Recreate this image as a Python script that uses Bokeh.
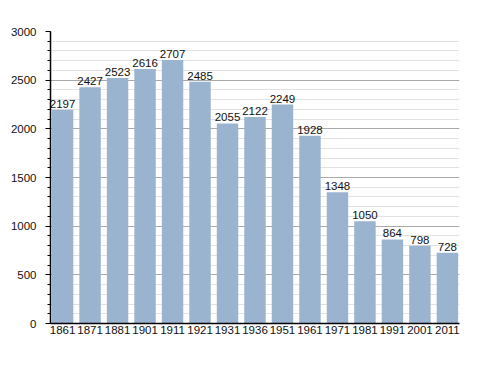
from bokeh.plotting import figure
from bokeh.models import Range1d, FixedTicker, SingleIntervalTicker, ColumnDataSource, LabelSet
from bokeh.core.properties import value
from bokeh.embed import file_html
from bokeh.resources import INLINE

years = ["1861", "1871", "1881", "1901", "1911", "1921", "1931", "1936", "1951", "1961", "1971", "1981", "1991", "2001", "2011"]
population = [2197, 2427, 2523, 2616, 2707, 2485, 2055, 2122, 2249, 1928, 1348, 1050, 864, 798, 728]

xs = list(range(len(years)))
src = ColumnDataSource(dict(x=xs, top=population, lab=[str(v) for v in population]))

p = figure(width=478, height=360, output_backend="svg", toolbar_location=None,
           x_range=Range1d(-0.44, len(years) - 1 + 0.44), y_range=Range1d(0, 3000),
           min_border_left=50, min_border_right=19, min_border_top=31, min_border_bottom=37)
p.outline_line_color = None
p.background_fill_color = "white"

p.vbar(x="x", top="top", width=0.78, source=src, fill_color="#9AB3CF", line_color=None)

labels = LabelSet(x="x", y="top", text="lab", source=src, text_align="center",
                  text_baseline="bottom", y_offset=2, text_font=value("Liberation Sans"),
                  text_font_size="11.5px", text_color="#111111")
p.add_layout(labels)

p.xaxis.ticker = FixedTicker(ticks=xs)
p.xaxis.major_label_overrides = {i: y for i, y in enumerate(years)}
p.xaxis.major_tick_in = 0
p.xaxis.major_tick_out = 0
p.xaxis.minor_tick_line_color = None
p.xaxis.axis_line_color = "black"
p.xaxis.axis_line_width = 1.5
p.xaxis.major_label_standoff = 2
p.xaxis.major_label_text_font = "Liberation Sans"
p.xaxis.major_label_text_font_size = "11.5px"
p.xaxis.major_label_text_color = "#111111"

p.yaxis.ticker = SingleIntervalTicker(interval=500, num_minor_ticks=5)
p.yaxis.axis_line_color = "black"
p.yaxis.axis_line_width = 1.5
p.yaxis.major_tick_in = 0
p.yaxis.major_tick_out = 5
p.yaxis.minor_tick_in = 0
p.yaxis.minor_tick_out = 3
p.yaxis.major_label_standoff = 9
p.yaxis.major_label_text_font = "Liberation Sans"
p.yaxis.major_label_text_font_size = "11.5px"
p.yaxis.major_label_text_color = "#111111"

p.xgrid.grid_line_color = None
p.ygrid.grid_line_color = "#aaaaaa"
p.ygrid.minor_grid_line_color = "#e2e2e2"
p.ygrid.level = "underlay"

open("out.html", "w").write(file_html(p, INLINE))
